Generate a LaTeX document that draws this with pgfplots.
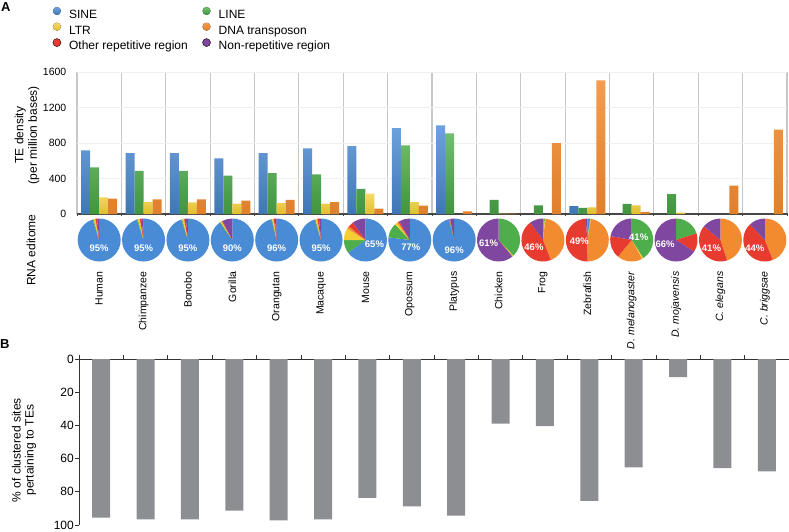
\documentclass[border=0pt]{standalone}
\usepackage{fontspec}
\setmainfont{Liberation Sans}
\usepackage{pgfplots}
\pgfplotsset{compat=1.18}
\definecolor{csine}{RGB}{74,139,213}
\definecolor{cline}{RGB}{77,174,75}
\definecolor{cltr}{RGB}{244,206,52}
\definecolor{cdna}{RGB}{242,139,48}
\definecolor{cother}{RGB}{230,59,46}
\definecolor{cnon}{RGB}{127,71,160}
\definecolor{barg}{RGB}{141,142,146}
\newcommand\pwedge[4]{%
  \ifdim #3pt>0.001pt
    \fill[#4] (axis cs:#1,0) -- ++({90-3.6*(#2)}:21.5pt) arc[start angle={90-3.6*(#2)}, delta angle={-3.6*(#3)}, radius=21.5pt] -- cycle;
  \fi}
\newcommand\pie[7]{%
  \pgfmathsetmacro\pieA{0}%
  \pgfmathsetmacro\pieB{#2}%
  \pgfmathsetmacro\pieC{#2+#3}%
  \pgfmathsetmacro\pieD{#2+#3+#4}%
  \pgfmathsetmacro\pieE{#2+#3+#4+#5}%
  \pgfmathsetmacro\pieF{#2+#3+#4+#5+#6}%
  \pwedge{#1}{\pieA}{#2}{csine}%
  \pwedge{#1}{\pieB}{#3}{cline}%
  \pwedge{#1}{\pieC}{#4}{cltr}%
  \pwedge{#1}{\pieD}{#5}{cdna}%
  \pwedge{#1}{\pieE}{#6}{cother}%
  \pwedge{#1}{\pieF}{#7}{cnon}}
\pgfplotsset{dot legend/.style={legend image code/.code={\fill (0pt,4.3pt) circle (4pt);}}}
\begin{document}
\begin{tikzpicture}
\useasboundingbox (0,0) rectangle (789pt,-531pt);
% panel letters and side labels
\node[font=\bfseries\fontsize{13}{15}\selectfont, anchor=north west, inner sep=0pt] at (1pt,-2pt) {A};
\node[font=\bfseries\fontsize{13}{15}\selectfont, anchor=north west, inner sep=0pt] at (0pt,-339pt) {B};
\node[rotate=90, align=center, font=\fontsize{12}{13.5}\selectfont] at (27pt,-135pt) {TE density\\(per million bases)};
\node[rotate=90, font=\fontsize{12}{14}\selectfont] at (31pt,-250pt) {RNA editome};
\node[rotate=90, align=center, font=\fontsize{12}{13}\selectfont] at (24pt,-450pt) {\% of clustered sites\\pertaining to TEs};

% ---------------- Panel A: TE density bars
\begin{axis}[
  at={(77pt,-214pt)}, anchor=south west,
  scale only axis, width=710pt, height=142pt,
  xmin=-0.5, xmax=15.5, ymin=0, ymax=1600,
  ybar=0pt, bar width=9pt,
  axis x line*=bottom, axis y line*=left,
  x axis line style={-, draw=black!72, line width=1.6pt},
  y axis line style={draw=none},
  xtick={0,...,15},
  xticklabels={Human,Chimpanzee,Bonobo,Gorilla,Orangutan,Macaque,Mouse,Opossum,Platypus,Chicken,Frog,Zebrafish,\textit{D. melanogaster},\textit{D. mojavensis},\textit{C. elegans},\textit{C. briggsae}},
  xticklabel style={rotate=90, anchor=east, font=\fontsize{10.5}{12}\selectfont},
  xticklabel shift=52pt,
  major x tick style={draw=none},
  minor xtick={-0.5,0.5,...,15.5},
  minor x tick style={draw=black!72, line width=0.8pt},
  minor tick length=3pt,
  tick align=center,
  xminorgrids=true,
  minor x grid style={draw=black!22, line width=1.2pt},
  ytick={0,400,800,1200,1600},
  ymajorgrids=true,
  major y grid style={draw=black!6, line width=0.6pt},
  major y tick style={draw=none},
  yticklabel style={font=\fontsize{10.5}{12}\selectfont, xshift=-5pt},
  /pgf/number format/assume math mode=true,
  /pgf/number format/1000 sep={},
  legend columns=2,
  legend cell align=left,
  legend style={at={(axis description cs:-0.0342,1.458)}, anchor=north west,
    draw=none, fill=none, inner sep=0pt, outer sep=0pt,
    font=\fontsize{12}{14}\selectfont, row sep=0.3pt,
    nodes={inner sep=1.5pt, text height=8.7pt, text depth=2.5pt},
    /tikz/every odd column/.append style={column sep=6.5pt},
    /tikz/every even column/.append style={column sep=13pt}},
]
\addplot[top color=csine!80!white, bottom color=csine!85!black, draw=none, dot legend] coordinates {(0,717) (1,687) (2,687) (3,627) (4,687) (5,740) (6,766) (7,969) (8,999) (11,90)};
\addlegendentry{SINE}
\addplot[top color=cline!80!white, bottom color=cline!85!black, draw=none, dot legend] coordinates {(0,526) (1,485) (2,485) (3,432) (4,462) (5,447) (6,282) (7,774) (8,909) (9,158) (10,98) (11,68) (12,113) (13,225)};
\addlegendentry{LINE}
\addplot[top color=cltr!75!white, bottom color=cltr!92!black, draw=none, dot legend] coordinates {(0,188) (1,135) (2,131) (3,116) (4,124) (5,116) (6,229) (7,135) (9,4) (11,75) (12,98) (13,15)};
\addlegendentry{LTR}
\addplot[top color=cdna!85!white, bottom color=cdna!92!black, draw=none, dot legend] coordinates {(0,173) (1,165) (2,165) (3,150) (4,158) (5,135) (6,60) (7,94) (8,30) (9,4) (10,800) (11,1506) (12,23) (14,319) (15,950)};
\addlegendentry{DNA transposon}
\addlegendimage{fill=cother, dot legend}
\addlegendentry{Other repetitive region}
\addlegendimage{fill=cnon, dot legend}
\addlegendentry{Non-repetitive region}
\end{axis}

% ---------------- Panel A: RNA editome pies
\begin{axis}[
  at={(77pt,-262pt)}, anchor=south west,
  scale only axis, width=710pt, height=44pt,
  xmin=-0.5, xmax=15.5, ymin=-1, ymax=1,
  hide axis, clip=false,
]
\addplot[draw=none] coordinates {(0,0)};
\pgfplotsextra{%
  \pie{0}{95}{0.8}{1.2}{0.3}{1.2}{1.5}%
  \pie{1}{95}{0.7}{1.2}{0.3}{1.3}{1.5}%
  \pie{2}{95}{0.7}{1.2}{0.3}{1.3}{1.5}%
  \pie{3}{90}{0.8}{1.0}{0.2}{0.5}{7.5}%
  \pie{4}{96}{0.6}{1.0}{0.2}{0.8}{1.4}%
  \pie{5}{95}{0.8}{1.2}{0.3}{1.2}{1.5}%
  \pie{6}{65}{10}{9}{2}{4}{10}%
  \pie{7}{77}{11}{2}{1}{1}{8}%
  \pie{8}{96}{0.5}{0}{0.2}{0.3}{3}%
  \pie{9}{0}{38}{0.5}{0.5}{0}{61}%
  \pie{10}{0.5}{1}{0.5}{42}{46}{10}%
  \pie{11}{2}{0.5}{0.3}{47}{49}{1.2}%
  \pie{12}{0}{41}{1}{19}{17}{22}%
  \pie{13}{0}{20}{0}{0}{14}{66}%
  \pie{14}{0}{0}{0}{45}{41}{14}%
  \pie{15}{0}{0}{0}{44}{44}{12}%
  \begin{scope}[every node/.style={text=white, font=\bfseries\fontsize{9.5}{11}\selectfont, inner sep=0pt}]
  \node[yshift=-8pt] at (axis cs:0,0) {95\%};
  \node[yshift=-8pt] at (axis cs:1,0) {95\%};
  \node[yshift=-8pt] at (axis cs:2,0) {95\%};
  \node[yshift=-8pt] at (axis cs:3,0) {90\%};
  \node[yshift=-8pt] at (axis cs:4,0) {96\%};
  \node[yshift=-8pt] at (axis cs:5,0) {95\%};
  \node[xshift=9pt, yshift=-4pt] at (axis cs:6,0) {65\%};
  \node[xshift=1pt, yshift=-7pt] at (axis cs:7,0) {77\%};
  \node[yshift=-10pt] at (axis cs:8,0) {96\%};
  \node[xshift=-10pt, yshift=-3pt] at (axis cs:9,0) {61\%};
  \node[xshift=-9pt, yshift=-7pt] at (axis cs:10,0) {46\%};
  \node[xshift=-8pt, yshift=-1pt] at (axis cs:11,0) {49\%};
  \node[xshift=7pt, yshift=3pt] at (axis cs:12,0) {41\%};
  \node[xshift=-11pt, yshift=-4pt] at (axis cs:13,0) {66\%};
  \node[xshift=-9pt, yshift=-8pt] at (axis cs:14,0) {41\%};
  \node[xshift=-10pt, yshift=-8pt] at (axis cs:15,0) {44\%};
  \end{scope}
}
\end{axis}

% ---------------- Panel B
\begin{axis}[
  at={(79pt,-525pt)}, anchor=south west,
  scale only axis, width=710pt, height=166pt,
  xmin=-0.5, xmax=15.5, ymin=0, ymax=100, y dir=reverse,
  axis x line=top, axis y line=left,
  axis line style={-, draw=black!80, line width=0.7pt},
  x axis line style={-}, y axis line style={-},
  ybar, bar width=18pt,
  xtick={-0.5,0.5,...,15.5}, xticklabels={},
  ytick={0,20,40,60,80,100},
  tick align=outside, major tick length=4pt,
  tick style={draw=black!80, line width=0.7pt},
  yticklabel style={font=\fontsize{12}{13}\selectfont, inner sep=1pt},
  /pgf/number format/assume math mode=true,
  clip=false,
]
\addplot[fill=barg, draw=none] coordinates {(0,95.6) (1,96.6) (2,96.6) (3,91.3) (4,97.2) (5,96.6) (6,83.6) (7,88.8) (8,94.3) (9,38.9) (10,40.4) (11,85.5) (12,65.3) (13,10.9) (14,65.7) (15,67.7)};
\end{axis}
\end{tikzpicture}
\end{document}
